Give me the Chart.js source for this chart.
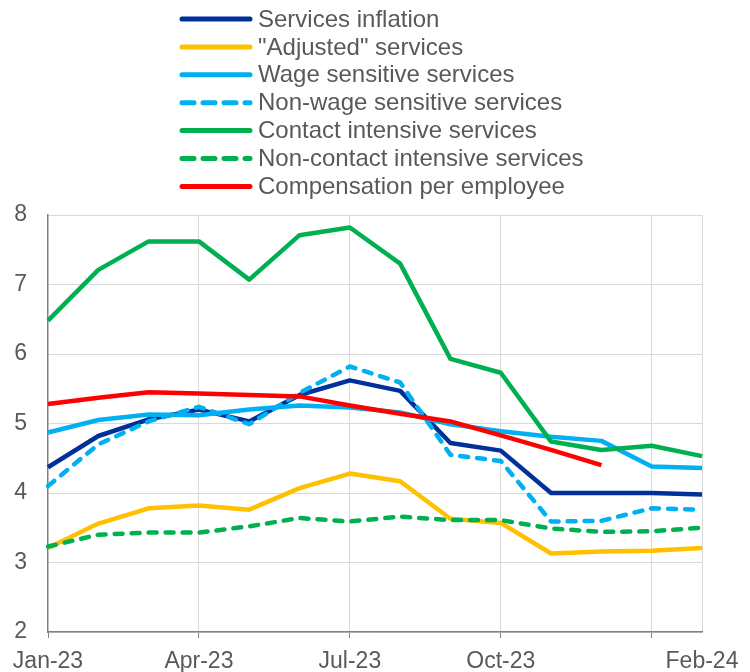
<!DOCTYPE html>
<html>
<head>
<meta charset="utf-8">
<script src="https://cdn.jsdelivr.net/npm/chart.js@4.4.1/dist/chart.umd.min.js"></script>
<style>
  html, body { margin: 0; padding: 0; background: #fff; }
  #box { width: 750px; height: 672px; }
</style>
</head>
<body>
<div id="box"><canvas id="servicesChart"></canvas></div>
<script>
// months on the x axis
const months = ['Jan-23', 'Feb-23', 'Mar-23', 'Apr-23', 'May-23', 'Jun-23', 'Jul-23',
                'Aug-23', 'Sep-23', 'Oct-23', 'Nov-23', 'Dec-23', 'Jan-24', 'Feb-24'];
// labels that are written under the axis, and months that get a vertical grid line
const shownLabels = ['Jan-23', 'Apr-23', 'Jul-23', 'Oct-23', 'Feb-24'];
const gridMonths = ['Apr-23', 'Jul-23', 'Oct-23', 'Jan-24', 'Feb-24'];
const tickMonths = ['Jan-23', 'Apr-23', 'Jul-23', 'Oct-23', 'Jan-24'];
const yTicks = [2, 3, 4, 5, 6, 7, 8];

const servicesInflation   = [4.37, 4.82, 5.06, 5.20, 5.03, 5.41, 5.62, 5.47, 4.72, 4.61, 4.00, 4.00, 4.00, 3.98];
const adjustedServices    = [3.21, 3.56, 3.78, 3.82, 3.76, 4.07, 4.28, 4.17, 3.63, 3.57, 3.13, 3.16, 3.17, 3.21];
const wageSensitive       = [4.87, 5.05, 5.13, 5.12, 5.20, 5.26, 5.23, 5.16, 4.99, 4.89, 4.81, 4.75, 4.38, 4.36];
const nonWageSensitive    = [4.10, 4.70, 5.03, 5.24, 4.99, 5.44, 5.82, 5.59, 4.55, 4.46, 3.59, 3.60, 3.78, 3.76];
const contactIntensive    = [6.48, 7.21, 7.62, 7.62, 7.07, 7.71, 7.82, 7.30, 5.93, 5.73, 4.74, 4.62, 4.68, 4.53];
const nonContactIntensive = [3.23, 3.40, 3.43, 3.43, 3.52, 3.64, 3.59, 3.66, 3.61, 3.61, 3.49, 3.44, 3.45, 3.50];
const compensation        = [5.28, 5.37, 5.45, 5.43, 5.41, 5.39, 5.26, 5.14, 5.03, 4.83, 4.62, 4.40, null, null];

const textGrey = '#595959';
const fontName = '"Liberation Sans", Arial, sans-serif';

function serie(label, data, color, dashed) {
    return {
        label: label,
        data: data,
        borderColor: color,
        backgroundColor: color,
        borderWidth: 4.5,
        borderDash: dashed ? [8, 9] : [],
        borderCapStyle: dashed ? 'round' : 'butt',
        borderJoinStyle: 'round',
        legendDash: dashed ? [12, 9] : [],
        pointRadius: 0,
        tension: 0,
        fill: false
    };
}

const datasets = [
    serie('Services inflation', servicesInflation, '#00309A', false),
    serie('"Adjusted" services', adjustedServices, '#FFC000', false),
    serie('Wage sensitive services', wageSensitive, '#00B0F0', false),
    serie('Non-wage sensitive services', nonWageSensitive, '#00B0F0', true),
    serie('Contact intensive services', contactIntensive, '#00B050', false),
    serie('Non-contact intensive services', nonContactIntensive, '#00B050', true),
    serie('Compensation per employee', compensation, '#FF0000', false)
];
// later series are drawn on top, like the original
datasets.forEach((ds, i) => { ds.order = datasets.length - i; });

// legend as a single column above the plot
const columnLegend = {
    id: 'columnLegend',
    afterDraw(chart) {
        const ctx = chart.ctx;
        ctx.save();
        chart.data.datasets.forEach((ds, i) => {
            const y = 19 + i * 27.9;
            ctx.beginPath();
            ctx.lineWidth = 5;
            ctx.lineCap = 'round';
            ctx.strokeStyle = ds.borderColor;
            ctx.setLineDash(ds.legendDash);
            ctx.moveTo(182, y);
            ctx.lineTo(250, y);
            ctx.stroke();
            ctx.setLineDash([]);
            ctx.fillStyle = textGrey;
            ctx.font = '24px ' + fontName;
            ctx.textBaseline = 'middle';
            ctx.textAlign = 'left';
            ctx.fillText(ds.label, 258, y + 1);
        });
        ctx.restore();
    }
};

new Chart(document.getElementById('servicesChart'), {
    type: 'line',
    data: { labels: months, datasets: datasets },
    options: {
        responsive: true,
        maintainAspectRatio: false,
        animation: false,
        layout: { padding: { top: 215, left: 0, right: 48, bottom: 0 } },
        plugins: {
            legend: { display: false },
            tooltip: { enabled: false }
        },
        scales: {
            x: {
                offset: false,
                grid: {
                    color: c => gridMonths.includes(months[c.index]) ? '#D9D9D9' : 'rgba(0,0,0,0)',
                    tickColor: c => tickMonths.includes(months[c.index]) ? '#808080' : 'rgba(0,0,0,0)',
                    tickLength: 6,
                    lineWidth: 1
                },
                border: { color: '#808080', width: 1.5 },
                ticks: {
                    autoSkip: false,
                    maxRotation: 0,
                    padding: 12,
                    color: textGrey,
                    font: { family: fontName, size: 23, lineHeight: 1 },
                    callback: function(value, index) {
                        const m = months[index];
                        return shownLabels.includes(m) ? m : '';
                    }
                },
                // edge labels may hang outside the plot, as in the original
                afterFit: axis => {
                    axis.paddingLeft = 0;
                    axis.paddingRight = 0;
                    axis.height = 40;
                }
            },
            y: {
                min: yTicks[0],
                max: yTicks[yTicks.length - 1],
                afterBuildTicks: axis => { axis.ticks = yTicks.map(v => ({ value: v })); },
                grid: { color: '#D9D9D9', drawTicks: false, lineWidth: 1 },
                border: { color: '#808080', width: 1.5 },
                ticks: {
                    padding: 21,
                    color: textGrey,
                    font: { family: fontName, size: 23 }
                },
                afterFit: axis => { axis.width = 48; }
            }
        }
    },
    plugins: [columnLegend]
});
</script>
</body>
</html>
